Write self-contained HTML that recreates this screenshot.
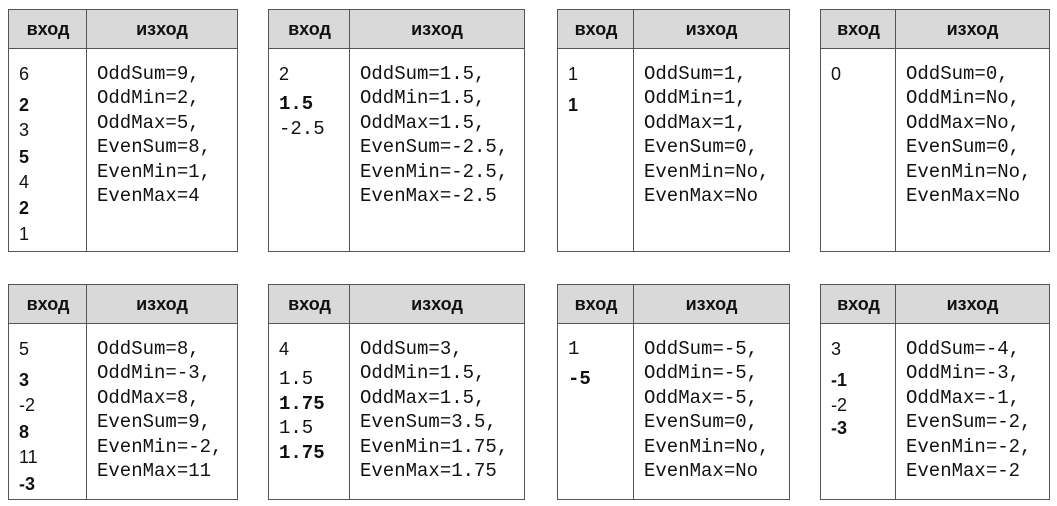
<!DOCTYPE html><html><head><meta charset="utf-8"><style>
body{margin:0;width:1057px;height:506px;background:#fff;position:relative;overflow:hidden;font-family:"Liberation Sans",sans-serif;color:#111}
.t{position:absolute;border:1px solid #555;box-sizing:border-box}
.h{position:absolute;left:0;right:0;top:0;height:38px;background:#d9d9d9;border-bottom:1px solid #555}
.v{position:absolute;top:0;bottom:0;width:1px;background:#555}
.hl{position:absolute;top:0;height:38px;line-height:38px;text-align:center;font-weight:bold;font-size:18px}
.l{position:absolute;line-height:20px;margin-top:-10px;font-size:18px;white-space:pre}
.m{font-family:"Liberation Mono",monospace;font-size:19px}
.b{font-weight:bold}
</style></head><body>
<script>
const T=[
 {x:8,y:9,w:230,h:243,s:86,in:[["6",74],["2",105,"b"],["3",130],["5",157,"b"],["4",182],["2",208,"b"],["1",234]],out:["OddSum=9,","OddMin=2,","OddMax=5,","EvenSum=8,","EvenMin=1,","EvenMax=4"]},
 {x:268,y:9,w:257,h:243,s:349,in:[["2",74],["1.5",104,"b m"],["-2.5",129,"m"]],out:["OddSum=1.5,","OddMin=1.5,","OddMax=1.5,","EvenSum=-2.5,","EvenMin=-2.5,","EvenMax=-2.5"]},
 {x:557,y:9,w:233,h:243,s:633,in:[["1",74],["1",105,"b"]],out:["OddSum=1,","OddMin=1,","OddMax=1,","EvenSum=0,","EvenMin=No,","EvenMax=No"]},
 {x:820,y:9,w:230,h:243,s:895,in:[["0",74]],out:["OddSum=0,","OddMin=No,","OddMax=No,","EvenSum=0,","EvenMin=No,","EvenMax=No"]},
 {x:8,y:284,w:230,h:216,s:86,in:[["5",349],["3",380,"b"],["-2",405],["8",432,"b"],["11",457],["-3",484,"b"]],out:["OddSum=8,","OddMin=-3,","OddMax=8,","EvenSum=9,","EvenMin=-2,","EvenMax=11"]},
 {x:268,y:284,w:257,h:216,s:349,in:[["4",349],["1.5",379,"m"],["1.75",404,"b m"],["1.5",428,"m"],["1.75",453,"b m"]],out:["OddSum=3,","OddMin=1.5,","OddMax=1.5,","EvenSum=3.5,","EvenMin=1.75,","EvenMax=1.75"]},
 {x:557,y:284,w:233,h:216,s:633,in:[["1",349,"m"],["-5",379,"b m"]],out:["OddSum=-5,","OddMin=-5,","OddMax=-5,","EvenSum=0,","EvenMin=No,","EvenMax=No"]},
 {x:820,y:284,w:230,h:216,s:895,in:[["3",349],["-1",380,"b"],["-2",405],["-3",428,"b"]],out:["OddSum=-4,","OddMin=-3,","OddMax=-1,","EvenSum=-2,","EvenMin=-2,","EvenMax=-2"]}
];
let h="";
for(const t of T){
 const sx=t.s-t.x;
 h+=`<div class="t" style="left:${t.x}px;top:${t.y}px;width:${t.w}px;height:${t.h}px"><div class="h"></div><div class="v" style="left:${sx-1}px"></div><div class="hl" style="left:0;width:${sx}px">вход</div><div class="hl" style="left:${sx}px;right:0">изход</div></div>`;
 for(const [s,y,c] of t.in) h+=`<div class="l ${c||""}" style="left:${t.x+11}px;top:${y}px">${s}</div>`;
 t.out.forEach((s,i)=>{h+=`<div class="l m" style="left:${t.s+11}px;top:${t.y+65+i*24.4}px">${s}</div>`});
}
document.write(h);
</script>
</body></html>
